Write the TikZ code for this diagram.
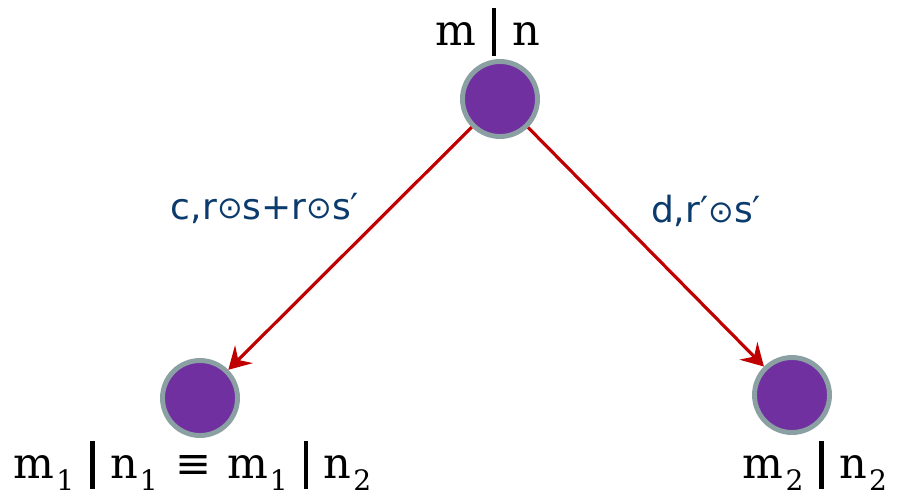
\documentclass[tikz,border=0pt]{standalone}
\usepackage{fontspec}
\usepackage{graphicx}
\setmainfont{DejaVu Serif}
\newfontfamily\lblfont{DejaVu Sans}
\usetikzlibrary{arrows.meta}
\definecolor{vtxpurple}{HTML}{7030A0}
\definecolor{vtxgray}{HTML}{8AA0A3}
\definecolor{arcred}{HTML}{C00000}
\definecolor{lblblue}{HTML}{0B3A6C}
\newcommand{\vbar}{\hspace{9pt}\rule[-6pt]{2.6pt}{27pt}\hspace{9pt}}
\newcommand{\lsub}[1]{\hspace{1pt}\raisebox{-7pt}{\fontsize{16}{16}\selectfont #1}}
\newcommand{\codot}{\raisebox{0.3pt}{\scalebox{0.85}{⊙}}}
\tikzset{
  vtx/.style={circle,draw=vtxgray,fill=vtxpurple,line width=2.8pt,minimum size=1.5cm,inner sep=0pt},
  vlabel/.style={anchor=base,inner sep=0pt,font=\fontsize{24.5}{28}\selectfont},
  elabel/.style={inner sep=0pt,text=lblblue,font=\lblfont\fontsize{20.5}{24}\selectfont},
  arc/.style={-{Stealth[length=4.4mm,width=5mm,inset=1.6mm]},line width=1.8pt,draw=arcred}
}
\begin{document}
\begin{tikzpicture}
  \useasboundingbox (0,0) rectangle (17.96,-9.9);
  % vertices
  \node[vtx] (top) at (10.0,-1.98) {};
  \node[vtx] (left) at (4.0,-7.96) {};
  \node[vtx] (right) at (15.84,-7.9) {};

  % vertex labels
  \node[vlabel] (toplbl) at (9.75,-0.9) {m\vbar n};
  \node[vlabel] (leftlbl) at (3.85,-9.56) {m\lsub{1}\vbar n\lsub{1}\hspace{10pt}≡\hspace{9pt}m\lsub{1}\vbar n\lsub{2}};
  \node[vlabel] (rightlbl) at (16.3,-9.56) {m\lsub{2}\vbar n\lsub{2}};

  % arcs
  \draw[arc] (top) -- (left);
  \draw[arc] (top) -- (right);
  \node[elabel] (leftarc) at (5.3,-4.16) {c,r\codot s+r\codot s′};
  \node[elabel] (rightarc) at (14.12,-4.22) {d,r′\codot s′};
\end{tikzpicture}
\end{document}
